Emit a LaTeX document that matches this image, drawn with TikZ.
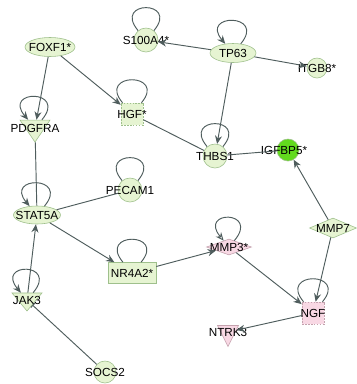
\documentclass[tikz,border=0pt]{standalone}
\usepackage{fontspec}
\setmainfont{Liberation Sans}
\usetikzlibrary{shapes.geometric,arrows.meta}

\definecolor{linkgray}{HTML}{4F5D5D}
\definecolor{genegreen}{HTML}{E6F4D2}
\definecolor{geneedge}{HTML}{9FC08C}
\definecolor{brightgreen}{HTML}{62DA1E}
\definecolor{genepink}{HTML}{F8D8E4}
\definecolor{pinkedge}{HTML}{C4A2AE}

\tikzset{
  gene/.style={draw=geneedge, fill=genegreen, inner sep=0pt, line width=0.5pt},
  pinkgene/.style={gene, draw=pinkedge, fill=genepink},
  dashbox/.style={rectangle, dash pattern=on 1.5pt off 1pt},
  downtri/.style={isosceles triangle, isosceles triangle stretches, shape border rotate=270},
  genelabel/.style={font=\fontsize{10}{12}\selectfont, inner sep=0pt},
  link/.style={draw=linkgray, line width=0.8pt},
  act/.style={link, -{Stealth[length=7pt,width=6pt]}},
  inhib/.style={link, -{Bar[width=5pt]}},
  selfloop/.style={link, to path={(\tikztostart.50) .. controls +(50:1.2cm) and +(130:1.2cm) .. (\tikztostart.130)}},
}

\begin{document}
\begin{tikzpicture}[x=0.03cm, y=-0.03cm]
\path [use as bounding box, fill=white] (0,0) rectangle (357,384);

\node (foxf) [gene, ellipse,
    minimum width=1.5cm,
    minimum height=0.57cm,
    label={[genelabel]center:FOXF1*}
] at (50,47) {};

\node (s100) [gene, circle,
    minimum size=0.72cm,
    label={[genelabel]center:S100A4*}
] at (146,40) {};

\node (tp63) [gene, ellipse,
    minimum width=1.38cm,
    minimum height=0.57cm,
    label={[genelabel]center:TP63}
] at (233,53) {};

\node (itgb8) [gene, circle,
    minimum size=0.6cm,
    label={[genelabel]center:ITGB8*}
] at (317,68) {};

\node (hgf) [gene, dashbox,
    minimum size=0.66cm,
    label={[genelabel]center:HGF*}
] at (132,114) {};

\node (pdgfra) [gene, downtri,
    minimum width=0.9cm,
    minimum height=0.66cm,
    label={[genelabel]center:PDGFRA}
] at (35,128) {};

\node (thbs1) [gene, circle,
    minimum size=0.72cm,
    label={[genelabel]center:THBS1}
] at (215,156) {};

\node (igfbp5) [gene, circle,
    minimum size=0.66cm,
    fill=brightgreen,
    label={[genelabel, xshift=-0.12cm]center:IGFBP5*}
] at (288,150) {};

\node (pecam1) [gene, circle,
    minimum size=0.72cm,
    label={[genelabel]center:PECAM1}
] at (130,190) {};

\node (stat5a) [gene, ellipse,
    minimum width=1.41cm,
    minimum height=0.54cm,
    label={[genelabel]center:STAT5A}
] at (37,215) {};

\node (nr4a2) [gene, rectangle,
    minimum width=1.44cm,
    minimum height=0.63cm,
    label={[genelabel]center:NR4A2*}
] at (132,273) {};

\node (mmp3) [pinkgene, diamond,
    minimum width=1.35cm,
    minimum height=0.48cm,
    label={[genelabel]center:MMP3*}
] at (229,247) {};

\node (mmp7) [gene, diamond,
    minimum width=1.41cm,
    minimum height=0.6cm,
    label={[genelabel]center:MMP7}
] at (333,228) {};

\node (jak3) [gene, downtri,
    minimum width=0.9cm,
    minimum height=0.54cm,
    label={[genelabel]center:JAK3}
] at (27,300) {};

\node (ngf) [pinkgene, dashbox,
    minimum size=0.66cm,
    label={[genelabel]center:NGF}
] at (313,313) {};

\node (ntrk3) [pinkgene, downtri,
    minimum width=0.63cm,
    minimum height=0.63cm,
    label={[genelabel]center:NTRK3}
] at (228,332) {};

\node (socs2) [gene, circle,
    minimum size=0.66cm,
    label={[genelabel]center:SOCS2}
] at (105,372) {};

% interactions
\draw [act] (foxf) -- (pdgfra);
\draw [act] (foxf) -- (hgf);
\draw [link] (hgf) -- (thbs1);
\draw [act] (tp63) -- (s100);
\draw [act] (tp63) -- (itgb8);
\draw [act] (tp63) -- (thbs1);
\draw [link] (thbs1) -- (igfbp5);
\draw [act] (mmp7) -- (igfbp5);
\draw [act] (mmp7) -- (ngf);
\draw [act] (mmp3) -- (ngf);
\draw [act] (ngf) -- (ntrk3);
\draw [act] (nr4a2) -- (mmp3);
\draw [act] (stat5a) -- (nr4a2);
\draw [link] (stat5a) -- (pecam1);
\draw [link] (pdgfra) -- (stat5a);
\draw [act] (jak3) -- (stat5a);
\draw [inhib] (socs2) -- (jak3);

% self loops
\draw [selfloop] (s100) to (s100);
\draw [selfloop, act] (tp63) to (tp63);
\draw [selfloop] (hgf) to (hgf);
\draw [selfloop, act] (pdgfra) to (pdgfra);
\draw [selfloop] (thbs1) to (thbs1);
\draw [selfloop] (pecam1) to (pecam1);
\draw [selfloop, act] (stat5a) to (stat5a);
\draw [selfloop] (nr4a2) to (nr4a2);
\draw [selfloop, link, -{Stealth[length=7pt,width=6pt,fill=white]}] (mmp3) to (mmp3);
\draw [selfloop, act] (jak3) to (jak3);
\draw [selfloop] (ngf) to (ngf);

\end{tikzpicture}
\end{document}
